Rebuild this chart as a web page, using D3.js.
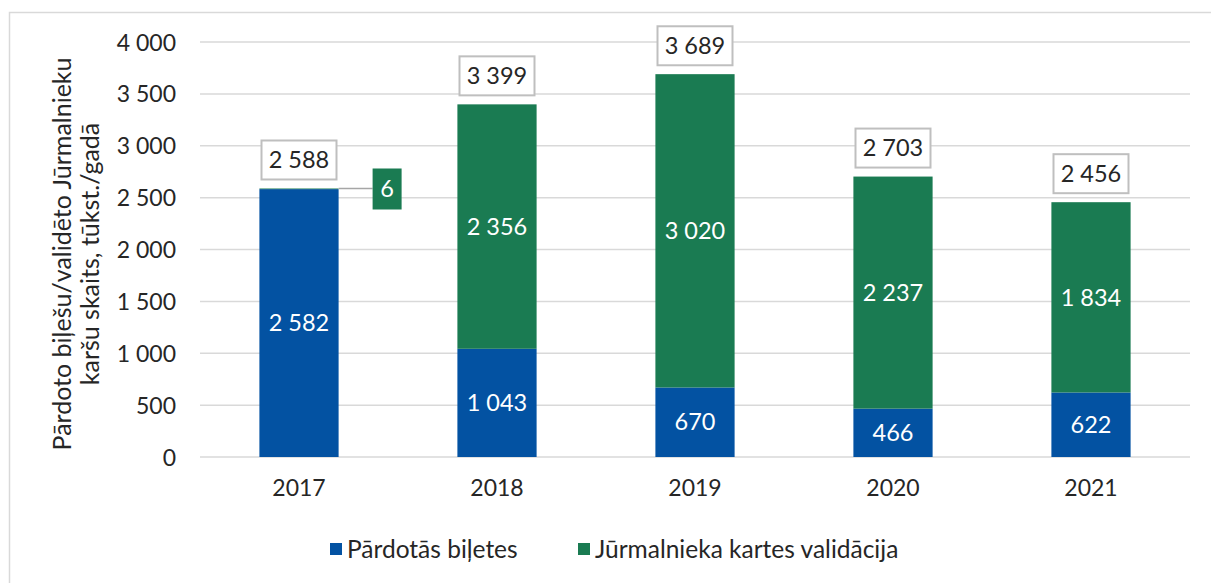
<!DOCTYPE html>
<html><head><meta charset="utf-8">
<script src="https://cdn.jsdelivr.net/npm/d3@7"></script>
<style>body{margin:0;background:#fff}svg{display:block}text{font-family:Lato,"Open Sans",sans-serif}</style>
</head><body><svg id="c" width="1211" height="583"></svg>
<script>
const years = ["2017","2018","2019","2020","2021"];
const sold = [2582, 1043, 670, 466, 622];
const validations = [6, 2356, 3020, 2237, 1834];
const totals = [2588, 3399, 3689, 2703, 2456];
const yTicks = [0,500,1000,1500,2000,2500,3000,3500,4000];
const seriesNames = ["Pārdotās biļetes","Jūrmalnieka kartes validācija"];
const colors = ["#0352A2","#1A7B52"];

const svg = d3.select("#c");
const fmt = v => d3.format(",")(v).replace(/,/g, " ");

svg.append("rect").attr("x",9.5).attr("y",12.5).attr("width",1260).attr("height",620)
  .attr("fill","none").attr("stroke","#d9d9d9").attr("stroke-width",1.5);

const x = d3.scaleBand().domain(years).range([200,1190]).paddingInner(0.6).paddingOuter(0.3);
const y = d3.scaleLinear().domain([0,4000]).range([457,42]);

// gridlines
svg.append("g").selectAll("line").data(yTicks).join("line")
  .attr("x1",200).attr("x2",1190).attr("y1",d=>y(d)).attr("y2",d=>y(d))
  .attr("stroke","#d9d9d9").attr("stroke-width",1.5);

// y axis labels
const yAxis = svg.append("g").attr("transform","translate(176,0)")
  .call(d3.axisLeft(y).tickValues(yTicks).tickFormat(fmt).tickSize(0).tickPadding(0));
yAxis.select(".domain").remove();
yAxis.selectAll("text").attr("font-size",23).attr("fill","#262626").attr("font-family","Lato,sans-serif").attr("dy","0.35em");

// x axis labels
const xAxis = svg.append("g").attr("transform","translate(0,479)")
  .call(d3.axisBottom(x).tickSize(0).tickPadding(0));
xAxis.select(".domain").remove();
xAxis.selectAll("text").attr("font-size",23).attr("fill","#262626").attr("font-family","Lato,sans-serif").attr("dy","0.75em");

// stacked bars
const rows = years.map((yr,i)=>({year:yr, sold:sold[i], val:validations[i]}));
const stack = d3.stack().keys(["sold","val"])(rows);
stack.forEach((layer,li)=>{
  svg.append("g").selectAll("rect").data(layer).join("rect")
    .attr("x",d=>x(d.data.year)).attr("width",x.bandwidth())
    .attr("y",d=>y(d[1])).attr("height",d=>y(d[0])-y(d[1]))
    .attr("fill",colors[li]);
});

// segment labels
stack.forEach((layer,li)=>{
  svg.append("g").selectAll("text").data(layer.filter(d=>d[1]-d[0]>100)).join("text")
    .attr("x",d=>x(d.data.year)+x.bandwidth()/2).attr("y",d=>(y(d[0])+y(d[1]))/2)
    .attr("dy","0.35em").attr("text-anchor","middle").attr("font-size",23.5).attr("fill","#fff")
    .text(d=>fmt(d[1]-d[0]));
});

// small validation label for 2017 (callout)
const small = stack[1].filter(d=>d[1]-d[0]<=100);
const sg = svg.append("g");
small.forEach(d=>{
  const bx = x(d.data.year)+x.bandwidth();
  const by = y(d[1]);
  sg.append("line").attr("x1",bx).attr("x2",bx+34).attr("y1",by).attr("y2",by).attr("stroke","#a6a6a6").attr("stroke-width",1.5);
  sg.append("rect").attr("x",bx+34).attr("y",by-20).attr("width",29).attr("height",41).attr("fill",colors[1]);
  sg.append("text").attr("x",bx+48.5).attr("y",by).attr("dy","0.35em").attr("text-anchor","middle")
    .attr("font-size",23.5).attr("fill","#fff").text(fmt(d[1]-d[0]));
});

// totals boxes
const tg = svg.append("g");
years.forEach((yr,i)=>{
  const cx = x(yr)+x.bandwidth()/2;
  const top = y(totals[i]);
  tg.append("rect").attr("x",cx-37.5).attr("y",top-48).attr("width",75).attr("height",39)
    .attr("fill","#fff").attr("stroke","#bfbfbf").attr("stroke-width",2);
  tg.append("text").attr("x",cx).attr("y",top-28.5).attr("dy","0.35em").attr("text-anchor","middle")
    .attr("font-size",23.5).attr("fill","#262626").text(fmt(totals[i]));
});

// y axis title
const title = svg.append("text").attr("transform","translate(76,254) rotate(-90)")
  .attr("text-anchor","middle").attr("font-size",25).attr("fill","#262626");
title.append("tspan").attr("x",0).attr("dy","-0.2em").text("Pārdoto biļešu/validēto Jūrmalnieku");
title.append("tspan").attr("x",0).attr("dy","1.12em").text("karšu skaits, tūkst./gadā");

// legend
const lg = svg.append("g");
const lx = [330, 578];
seriesNames.forEach((n,i)=>{
  lg.append("rect").attr("x",lx[i]).attr("y",543).attr("width",12).attr("height",12).attr("fill",colors[i]);
  lg.append("text").attr("x",lx[i]+17).attr("y",549.5).attr("dy","0.35em").attr("font-size",24.5).attr("fill","#262626").text(n);
});
</script></body></html>
